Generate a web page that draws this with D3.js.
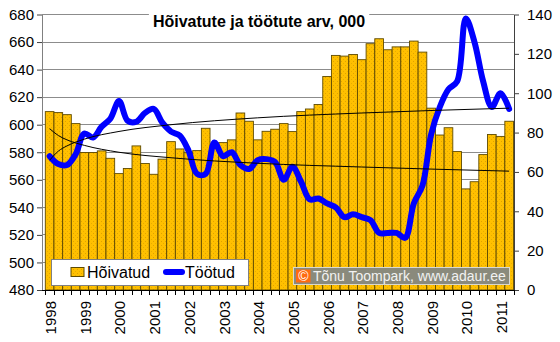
<!DOCTYPE html>
<html>
<head>
<meta charset="utf-8">
<script src="https://cdn.jsdelivr.net/npm/d3@7"></script>
<style>
  html, body { margin: 0; padding: 0; background: #fff; }
  svg { display: block; font-family: Arial, "Liberation Sans", sans-serif; }
</style>
</head>
<body>
<svg id="chart" width="560" height="342"></svg>
<script>
// Year labels on the category axis (one per Q1)
const years = ["1998","1999","2000","2001","2002","2003","2004","2005","2006","2007","2008","2009","2010","2011"];
const quartersPerYear = [1, 2, 3, 4];
const quarterCount = 54; // 1998 Q1 … 2011 Q2

// Employed persons, thousands (bars, left axis)
const employed = [
  609.5, 608.8, 607.3, 600.8, 579.8, 579.8, 581, 575.6, 564.5, 568.2,
  584.6, 571.8, 564, 575, 587.7, 582.4, 580, 581.2, 597.4, 583,
  587, 589, 608.5, 602.5, 589, 595.2, 596.7, 600.8, 595, 609.5,
  611.4, 614.7, 635, 650.3, 649.8, 651, 647.2, 658.8, 662.4, 654.4,
  656.5, 656.5, 660.7, 652.7, 612, 592.5, 597.8, 580.5, 553.4, 558.6,
  578.3, 592.9, 591.5, 602.5
];

// Unemployed persons, thousands (smoothed line, right axis)
const unemployed = [
  68, 64, 63.5, 69, 79.5, 77.5, 83, 87, 96, 86,
  85.5, 90, 92, 85, 80.5, 78.5, 71, 59, 59, 75,
  68, 70, 63.5, 61.5, 66, 66.5, 65, 56, 62.6, 55,
  46, 46.5, 44, 42, 37, 38.5, 37, 35.5, 29, 29,
  29, 26.5, 44, 53, 79, 93, 102, 106, 138, 126,
  106, 93, 100, 92
];

// Logarithmic trend lines, sampled at these quarter positions
const trendAt = [0, 1, 2, 4, 8, 14, 24, 36, 53];
const employedTrend = [574.2, 580.8, 584.6, 589.5, 595.1, 600, 605, 608.5, 612];
const unemployedTrend = [82, 78.5, 76.3, 73.5, 70, 67.2, 64.4, 62.5, 60.4];

// Axis ticks
const leftTicks = [480, 500, 520, 540, 560, 580, 600, 620, 640, 660, 680];
const rightTicks = [0, 20, 40, 60, 80, 100, 120, 140];

const titleText = "Hõivatute ja töötute arv, 000";
const legendLabels = ["Hõivatud", "Töötud"];
const creditText = "Tõnu Toompark, www.adaur.ee";

// ---- layout ----
const plot = { left: 42, right: 514, top: 14.5, bottom: 290 };
const bandLeft = 45.3, bandRight = 513.5;

const categories = d3.cross(years, quartersPerYear)
  .map(([y, q]) => `${y} Q${q}`)
  .slice(0, quarterCount);

const x = d3.scaleBand().domain(categories).range([bandLeft, bandRight]).padding(0);
const yL = d3.scaleLinear().domain([480, 680]).range([plot.bottom, plot.top]);
const yR = d3.scaleLinear().domain([0, 140]).range([plot.bottom, plot.top]);
const cx = i => x(categories[i]) + x.bandwidth() / 2;

const svg = d3.select("#chart");

// stippled bar fill
const defs = svg.append("defs");
const pat = defs.append("pattern")
  .attr("id", "stipple").attr("patternUnits", "userSpaceOnUse")
  .attr("width", 4).attr("height", 4);
pat.append("rect").attr("width", 4).attr("height", 4).attr("fill", "#FFC000");
pat.append("rect").attr("x", 1).attr("y", 1).attr("width", 1).attr("height", 1).attr("fill", "#E0A200");
pat.append("rect").attr("x", 3).attr("y", 3).attr("width", 1).attr("height", 1).attr("fill", "#E8AC00");

svg.append("rect").attr("width", 560).attr("height", 342).attr("fill", "#fff");

// horizontal gridlines
svg.append("g").selectAll("line").data(leftTicks.filter(d => d > 480)).join("line")
  .attr("x1", plot.left).attr("x2", plot.right)
  .attr("y1", d => yL(d)).attr("y2", d => yL(d))
  .attr("stroke", "#8c8c8c").attr("stroke-width", 1).attr("shape-rendering", "crispEdges");

// bars
svg.append("g").selectAll("rect").data(employed).join("rect")
  .attr("x", (d, i) => x(categories[i]))
  .attr("width", x.bandwidth())
  .attr("y", d => yL(d))
  .attr("height", d => yL(480) - yL(d))
  .attr("fill", "url(#stipple)")
  .attr("stroke", "#5e4a00").attr("stroke-width", 0.9);

// unemployed line
svg.append("path")
  .datum(unemployed)
  .attr("d", d3.line().x((d, i) => cx(i)).y(d => yR(d)).curve(d3.curveCatmullRom.alpha(0.5)))
  .attr("fill", "none").attr("stroke", "#0000FF").attr("stroke-width", 6)
  .attr("stroke-linejoin", "round").attr("stroke-linecap", "round");

// trend lines
const trendLine = scale => d3.line()
  .x((d, k) => cx(trendAt[k])).y(d => scale(d)).curve(d3.curveMonotoneX);
svg.append("path").datum(employedTrend).attr("d", trendLine(yL))
  .attr("fill", "none").attr("stroke", "#000").attr("stroke-width", 1);
svg.append("path").datum(unemployedTrend).attr("d", trendLine(yR))
  .attr("fill", "none").attr("stroke", "#000").attr("stroke-width", 1);

// left axis
const axL = svg.append("g").attr("transform", `translate(${plot.left},0)`)
  .call(d3.axisLeft(yL).tickValues(leftTicks).tickSize(5).tickPadding(3).tickSizeOuter(0));
axL.select(".domain").attr("stroke", "#808080");
axL.selectAll(".tick line").attr("stroke", "#404040");
axL.selectAll("text").attr("font-size", 15).attr("fill", "#000").attr("font-family", "Arial, 'Liberation Sans', sans-serif");

// right axis
const axR = svg.append("g").attr("transform", `translate(${plot.right},0)`)
  .call(d3.axisRight(yR).tickValues(rightTicks).tickSize(5).tickPadding(8).tickSizeOuter(0));
axR.select(".domain").attr("stroke", "#404040");
axR.selectAll(".tick line").attr("stroke", "#404040");
axR.selectAll("text").attr("font-size", 15).attr("fill", "#000").attr("font-family", "Arial, 'Liberation Sans', sans-serif");

// bottom axis: ticks at every category boundary, year label under each Q1
const bx = svg.append("g");
bx.append("line").attr("x1", plot.left).attr("x2", plot.right)
  .attr("y1", plot.bottom + 0.5).attr("y2", plot.bottom + 0.5).attr("stroke", "#000");
const bounds = d3.range(quarterCount + 1).map(i => i < quarterCount ? x(categories[i]) : bandRight);
bx.selectAll("line.tk").data(bounds).join("line").attr("class", "tk")
  .attr("x1", d => Math.round(d) + 0.5).attr("x2", d => Math.round(d) + 0.5)
  .attr("y1", plot.bottom).attr("y2", plot.bottom + 5).attr("stroke", "#000");
bx.selectAll("text").data(years).join("text")
  .attr("transform", (d, k) => `translate(${cx(k * 4) + 1},301) rotate(-90)`)
  .attr("text-anchor", "end").attr("dominant-baseline", "central")
  .attr("font-size", 15).attr("fill", "#000").text(d => d);

// title
const title = svg.append("g");
const tt = title.append("text").attr("x", 259).attr("y", 27)
  .attr("text-anchor", "middle").attr("font-size", 16).attr("font-weight", "bold")
  .attr("fill", "#000").text(titleText);
const tb = tt.node().getBBox();
title.insert("rect", "text").attr("x", tb.x - 4).attr("y", tb.y - 1)
  .attr("width", tb.width + 8).attr("height", tb.height + 2).attr("fill", "#fff");

// legend
const lg = svg.append("g");
lg.append("rect").attr("x", 51.5).attr("y", 259.5).attr("width", 197).attr("height", 26)
  .attr("fill", "#fff").attr("stroke", "#808080");
lg.append("rect").attr("x", 71).attr("y", 267.5).attr("width", 13).attr("height", 9)
  .attr("fill", "url(#stipple)").attr("stroke", "#5e4a00");
lg.append("text").attr("x", 87).attr("y", 278).attr("font-size", 16).text(legendLabels[0]);
lg.append("line").attr("x1", 166).attr("x2", 182).attr("y1", 272).attr("y2", 272)
  .attr("stroke", "#0000FF").attr("stroke-width", 6).attr("stroke-linecap", "round");
lg.append("text").attr("x", 185).attr("y", 278).attr("font-size", 16).text(legendLabels[1]);

// credit box
const cr = svg.append("g");
cr.append("rect").attr("x", 293.5).attr("y", 267.5).attr("width", 216).attr("height", 17)
  .attr("fill", "#8a8a7c").attr("stroke", "#d8d8d0");
cr.append("rect").attr("x", 296).attr("y", 269.5).attr("width", 14.5).attr("height", 13)
  .attr("fill", "#FF6a10");
cr.append("text").attr("x", 303.3).attr("y", 281).attr("text-anchor", "middle")
  .attr("font-size", 14).attr("fill", "#fff").text("©");
cr.append("text").attr("x", 313).attr("y", 281).attr("font-size", 14)
  .attr("fill", "#f2f2f2").text(creditText);
</script>
</body>
</html>
